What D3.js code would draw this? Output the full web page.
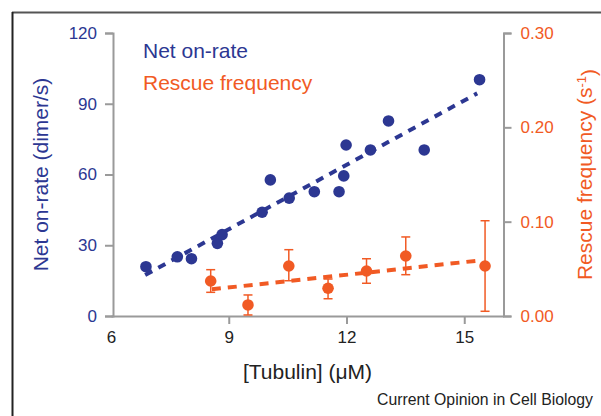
<!DOCTYPE html>
<html>
<head>
<meta charset="utf-8">
<script src="https://cdn.jsdelivr.net/npm/d3@7"></script>
<style>
  html, body { margin: 0; padding: 0; background: #fff; }
  svg { display: block; }
  text { font-family: "Liberation Sans", Arial, Helvetica, sans-serif; }
</style>
</head>
<body>
<svg id="chart" width="601" height="416"></svg>
<script>
// ---- Data ----
const xTicks = [6, 9, 12, 15];
const leftTicks = [0, 30, 60, 90, 120];
const rightTicks = [0, 0.10, 0.20, 0.30];

// Net on-rate (dimer/s)
const onRateX = [6.89, 7.69, 8.05, 8.71, 8.83, 9.85, 10.06, 10.54, 11.18, 11.81, 11.93, 11.99, 12.61, 13.07, 13.98, 15.39];
const onRateY = [20.9, 25.1, 24.3, 30.8, 34.5, 44.0, 57.7, 50.0, 52.7, 52.7, 59.4, 72.5, 70.4, 82.7, 70.4, 100.2];
const onRateFitX = [6.87, 15.33];
const onRateFitY = [17.4, 94.4];

// Rescue frequency (s^-1)
const rescueX = [8.54, 9.49, 10.53, 11.53, 12.51, 13.51, 15.53];
const rescueY = [0.0371, 0.0117, 0.0530, 0.0294, 0.0477, 0.0636, 0.0530];
const rescueErrLo = [0.0251, 0.0011, 0.0374, 0.0183, 0.0347, 0.0438, 0.0050];
const rescueErrHi = [0.0491, 0.0223, 0.0703, 0.0392, 0.0607, 0.0838, 0.1010];
const rescueFitX = [8.57, 15.33];
const rescueFitY = [0.0283, 0.0586];

// ---- Style ----
const BLUE = "#2c3792";
const ORANGE = "#f15a24";
const AXIS = "#9a9a9a";

const svg = d3.select("#chart");

// frame
svg.append("line").attr("x1", 12).attr("y1", 12.5).attr("x2", 601).attr("y2", 12.5)
  .attr("stroke", "#555").attr("stroke-width", 2);
svg.append("line").attr("x1", 12.5).attr("y1", 12).attr("x2", 12.5).attr("y2", 416)
  .attr("stroke", "#222").attr("stroke-width", 2);

const x = d3.scaleLinear().domain([6, 16]).range([111, 503.5]);
const yL = d3.scaleLinear().domain([0, 120]).range([316, 33]);
const yR = d3.scaleLinear().domain([0, 0.30]).range([316, 33]);

function styleAxis(g, color) {
  g.selectAll("path.domain").attr("stroke", AXIS).attr("stroke-width", 2);
  g.selectAll(".tick line").attr("stroke", AXIS).attr("stroke-width", 2);
  g.selectAll(".tick text").attr("fill", color)
    .style("font-family", '"Liberation Sans", Arial, sans-serif')
    .style("font-size", "17px");
}

// x axis
const gx = svg.append("g").attr("transform", "translate(0,316)")
  .call(d3.axisBottom(x).tickValues(xTicks).tickFormat(d3.format("d"))
    .tickSize(8).tickSizeOuter(0).tickPadding(7));
styleAxis(gx, "#222");
gx.selectAll(".tick").filter(d => d === 6).select("line").remove();

// left axis
const gl = svg.append("g").attr("transform", "translate(113,0)")
  .call(d3.axisLeft(yL).tickValues(leftTicks).tickFormat(d3.format("d"))
    .tickSize(8).tickSizeOuter(8).tickPadding(8));
styleAxis(gl, BLUE);

// right axis
const gr = svg.append("g").attr("transform", "translate(503.5,0)")
  .call(d3.axisRight(yR).tickValues(rightTicks).tickFormat(d3.format(".2f"))
    .tickSize(8).tickSizeOuter(8).tickPadding(9));
styleAxis(gr, ORANGE);

// fit lines
const line = (xs, ys, ys2) => d3.line()(xs.map((v, i) => [x(v), ys2(ys[i])]));
svg.append("path").attr("d", line(onRateFitX, onRateFitY, yL))
  .attr("fill", "none").attr("stroke", BLUE).attr("stroke-width", 4)
  .attr("stroke-dasharray", "8,7");
svg.append("path").attr("d", line(rescueFitX, rescueFitY, yR))
  .attr("fill", "none").attr("stroke", ORANGE).attr("stroke-width", 4)
  .attr("stroke-dasharray", "9,7");

// error bars
const eb = svg.append("g").attr("stroke", ORANGE).attr("stroke-width", 1.5).attr("fill", "none");
rescueX.forEach((v, i) => {
  const cx = x(v), lo = yR(rescueErrLo[i]), hi = yR(rescueErrHi[i]);
  eb.append("line").attr("x1", cx).attr("x2", cx).attr("y1", lo).attr("y2", hi);
  eb.append("line").attr("x1", cx - 4.5).attr("x2", cx + 4.5).attr("y1", lo).attr("y2", lo);
  eb.append("line").attr("x1", cx - 4.5).attr("x2", cx + 4.5).attr("y1", hi).attr("y2", hi);
});

// points
svg.append("g").selectAll("circle").data(onRateX).join("circle")
  .attr("cx", d => x(d)).attr("cy", (d, i) => yL(onRateY[i])).attr("r", 5.8)
  .attr("fill", BLUE);
svg.append("g").selectAll("circle").data(rescueX).join("circle")
  .attr("cx", d => x(d)).attr("cy", (d, i) => yR(rescueY[i])).attr("r", 5.8)
  .attr("fill", ORANGE);

// legend
svg.append("text").attr("x", 143).attr("y", 58).attr("fill", BLUE)
  .style("font-size", "21px").text("Net on-rate");
svg.append("text").attr("x", 143).attr("y", 90).attr("fill", ORANGE)
  .style("font-size", "21px").text("Rescue frequency");

// axis titles
svg.append("text").attr("transform", "translate(48,174.5) rotate(-90)")
  .attr("text-anchor", "middle").attr("fill", BLUE).style("font-size", "21px")
  .text("Net on-rate (dimer/s)");

const rt = svg.append("text").attr("transform", "translate(592,174.5) rotate(-90)")
  .attr("text-anchor", "middle").attr("fill", ORANGE).style("font-size", "21px");
rt.append("tspan").text("Rescue frequency (s");
rt.append("tspan").attr("dy", "-0.45em").style("font-size", "13px").text("-1");
rt.append("tspan").attr("dy", "0.45em").text(")");

svg.append("text").attr("x", 307.5).attr("y", 379).attr("text-anchor", "middle")
  .attr("fill", "#222").style("font-size", "21px").text("[Tubulin] (\u03BCM)");

svg.append("text").attr("x", 593).attr("y", 405).attr("text-anchor", "end")
  .attr("fill", "#222").style("font-size", "15.8px").text("Current Opinion in Cell Biology");
</script>
</body>
</html>
